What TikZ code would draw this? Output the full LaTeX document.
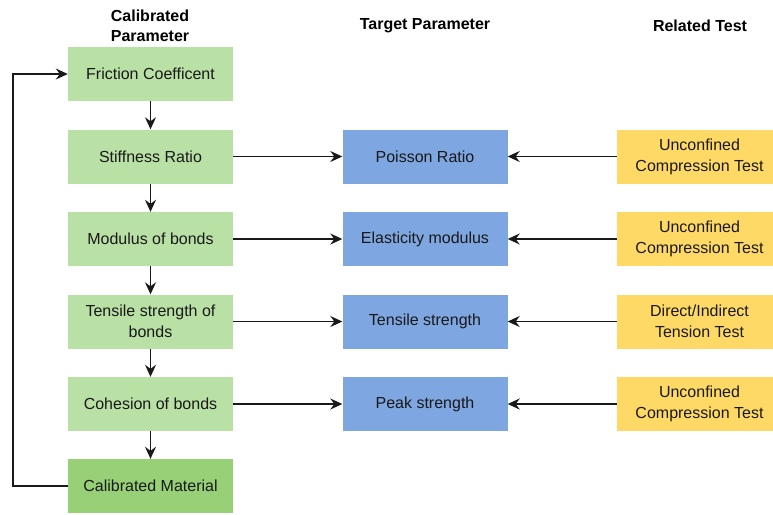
\documentclass[tikz,border=0pt]{standalone}
\usepackage{fontspec}
\setmainfont{Liberation Sans}
\usetikzlibrary{arrows.meta}
\definecolor{lg}{HTML}{B9E0A5}
\definecolor{dg}{HTML}{97D077}
\definecolor{bl}{HTML}{7EA6E0}
\definecolor{ye}{HTML}{FFD966}
\begin{document}
\begin{tikzpicture}[x=1pt,y=-1pt,
  box/.style={minimum width=165pt,minimum height=54pt,inner sep=2pt,align=center,font=\fontsize{16}{21}\selectfont,text=black!90},
  cal/.style={box,fill=lg},
  tgt/.style={box,fill=bl},
  tst/.style={box,fill=ye},
  hdr/.style={align=center,font=\bfseries\fontsize{16}{20}\selectfont},
  arr/.style={-{Stealth[length=12pt,width=11pt,inset=4pt]},line width=1.4pt,black!90}]
\useasboundingbox (0,0) rectangle (773,514);
\node[hdr] (h1) at (150,26) {Calibrated\\Parameter};
\node[hdr] (h2) at (425,26) {Target Parameter};
\node[hdr] (h3) at (700,26) {Related Test};

\node[cal] (c1) at (150.5,74) {Friction Coefficent};
\node[cal] (c2) at (150.5,156.5) {Stiffness Ratio};
\node[cal] (c3) at (150.5,239) {Modulus of bonds};
\node[cal] (c4) at (150.5,321.5) {Tensile strength of\\bonds};
\node[cal] (c5) at (150.5,404) {Cohesion of bonds};
\node[box,fill=dg] (c6) at (150.5,486) {Calibrated Material};

\node[tgt] (t2) at (425,156.5) {Poisson Ratio};
\node[tgt] (t3) at (425,239) {Elasticity modulus};
\node[tgt] (t4) at (425,321.5) {Tensile strength};
\node[tgt] (t5) at (425,404) {Peak strength};

\node[tst] (r2) at (699.5,156.5) {Unconfined\\Compression Test};
\node[tst] (r3) at (699.5,239) {Unconfined\\Compression Test};
\node[tst] (r4) at (699.5,321.5) {Direct/Indirect\\Tension Test};
\node[tst] (r5) at (699.5,404) {Unconfined\\Compression Test};

\draw[arr] (c1) -- (c2);
\draw[arr] (c2) -- (c3);
\draw[arr] (c3) -- (c4);
\draw[arr] (c4) -- (c5);
\draw[arr] (c5) -- (c6);
\foreach \i in {2,3,4,5}{
  \draw[arr] (c\i) -- (t\i);
  \draw[arr] (r\i) -- (t\i);
}
\coordinate (l1) at (13,486);
\coordinate (l2) at (13,74);
\draw[arr] (c6.west) -- (l1) -- (l2) -- (c1.west);
\end{tikzpicture}
\end{document}
